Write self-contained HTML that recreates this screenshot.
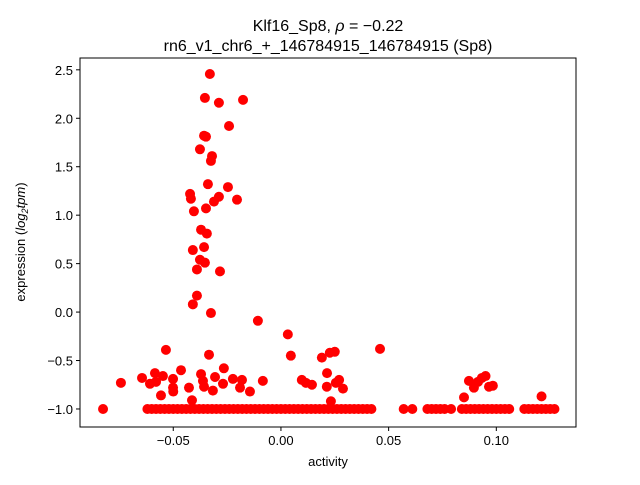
<!DOCTYPE html>
<html><head><meta charset="utf-8"><style>
body{margin:0;background:#fff;}
svg text{font-family:"Liberation Sans","DejaVu Sans",sans-serif;fill:#000;}
</style></head><body>
<svg id="chart" width="640" height="480" xmlns="http://www.w3.org/2000/svg">
<text x="328" y="31" font-size="16" text-anchor="middle">Klf16_Sp8, <tspan font-style="italic">ρ</tspan> = −0.22</text>
<text x="328" y="51" font-size="16" text-anchor="middle">rn6_v1_chr6_+_146784915_146784915 (Sp8)</text>
<g id="marks"></g>
<rect x="80" y="58" width="496" height="369" fill="none" stroke="#000" stroke-width="1"/>
<g id="axes"></g>
<text x="328" y="466" font-size="13" text-anchor="middle">activity</text>
<text transform="translate(25,242) rotate(-90)" font-size="13" text-anchor="middle">expression (<tspan font-style="italic">log</tspan><tspan font-size="9" dy="3" font-style="italic">2</tspan><tspan dy="-3" font-style="italic">tpm</tspan>)</text>
</svg>
<script>
const xTicks=[-0.05,0.00,0.05,0.10];
const xTickLabels=["−0.05","0.00","0.05","0.10"];
const yTicks=[-1.0,-0.5,0.0,0.5,1.0,1.5,2.0,2.5];
const yTickLabels=["−1.0","−0.5","0.0","0.5","1.0","1.5","2.0","2.5"];
const upperX=[-0.033,-0.0353,-0.0288,-0.0176,-0.0241,-0.0357,-0.0348,-0.0376,-0.032,-0.0325,-0.0339,-0.0246,-0.0422,-0.0418,-0.0288,-0.0311,-0.0204,-0.0404,-0.0348,-0.0371,-0.0344,-0.0409,-0.0357,-0.0376,-0.0353,-0.039,-0.0283,-0.039,-0.0409,-0.0325,-0.0107];
const upperY=[2.457,2.21,2.16,2.19,1.92,1.82,1.81,1.68,1.61,1.56,1.32,1.29,1.22,1.17,1.19,1.14,1.16,1.04,1.07,0.85,0.81,0.64,0.67,0.54,0.51,0.44,0.42,0.17,0.08,-0.01,-0.09];
const lowX=[-0.0743,-0.0534,-0.0645,-0.0608,-0.0585,-0.058,-0.0548,-0.0557,-0.0501,-0.0501,-0.05,-0.0464,-0.0427,-0.0413,-0.0371,-0.0362,-0.0357,-0.0334,-0.0316,-0.0306,-0.0265,-0.0269,-0.0223,-0.0181,-0.019,-0.0144,-0.0084,0.0032,0.0046,0.0097,0.0116,0.0144,0.019,0.0227,0.025,0.0214,0.0213,0.0255,0.027,0.0288,0.0232,0.046,0.085,0.0873,0.0896,0.0915,0.0933,0.095,0.0966,0.0984,0.121];
const lowY=[-0.73,-0.39,-0.68,-0.74,-0.63,-0.72,-0.66,-0.86,-0.69,-0.78,-0.82,-0.60,-0.78,-0.91,-0.64,-0.71,-0.77,-0.44,-0.81,-0.67,-0.58,-0.74,-0.69,-0.70,-0.78,-0.82,-0.71,-0.23,-0.45,-0.70,-0.73,-0.75,-0.47,-0.42,-0.41,-0.63,-0.77,-0.73,-0.70,-0.79,-0.92,-0.38,-0.88,-0.71,-0.78,-0.72,-0.68,-0.66,-0.77,-0.76,-0.87];
const baseX=[-0.0826,-0.062,-0.060,-0.058,-0.056,-0.054,-0.052,-0.050,-0.048,-0.046,-0.044,-0.042,-0.040,-0.038,-0.036,-0.034,-0.032,-0.030,-0.028,-0.026,-0.024,-0.022,-0.020,-0.018,-0.016,-0.014,-0.012,-0.010,-0.008,-0.006,-0.004,-0.002,0.000,0.002,0.004,0.006,0.008,0.010,0.012,0.014,0.016,0.018,0.020,0.022,0.024,0.026,0.028,0.030,0.032,0.034,0.036,0.038,0.040,0.042,0.057,0.061,0.068,0.070,0.072,0.074,0.076,0.079,0.084,0.086,0.088,0.090,0.092,0.094,0.096,0.098,0.100,0.102,0.104,0.106,0.113,0.115,0.117,0.119,0.121,0.123,0.125,0.127];
const baseY=-1.0;
const xMin=-0.0933,xMax=0.137,yMin=-1.186,yMax=2.622;
const L=80,R=576,T=58,B=427;
function sx(v){return L+(v-xMin)/(xMax-xMin)*(R-L);}
function sy(v){return B-(v-yMin)/(yMax-yMin)*(B-T);}
const NS="http://www.w3.org/2000/svg";
const marks=document.getElementById('marks');
function dot(x,y){const c=document.createElementNS(NS,'circle');


c.setAttribute('cx',sx(x));c.setAttribute('cy',sy(y));c.setAttribute('r',5);c.setAttribute('fill','#ff0000');marks.appendChild(c);}
baseX.forEach(x=>dot(x,baseY));
lowX.forEach((x,i)=>dot(x,lowY[i]));
upperX.forEach((x,i)=>dot(x,upperY[i]));
const axes=document.getElementById('axes');
xTicks.forEach((t,i)=>{const X=sx(t);
const l=document.createElementNS(NS,'line');


l.setAttribute('x1',X);l.setAttribute('x2',X);l.setAttribute('y1',B);l.setAttribute('y2',B+4);l.setAttribute('stroke','#000');axes.appendChild(l);
const tx=document.createElementNS(NS,'text');


tx.setAttribute('x',X);tx.setAttribute('y',B+18);tx.setAttribute('font-size','13');tx.setAttribute('text-anchor','middle');tx.textContent=xTickLabels[i];axes.appendChild(tx);});
yTicks.forEach((t,i)=>{const Y=sy(t);
const l=document.createElementNS(NS,'line');


l.setAttribute('x1',L-4);l.setAttribute('x2',L);l.setAttribute('y1',Y);l.setAttribute('y2',Y);l.setAttribute('stroke','#000');axes.appendChild(l);
const tx=document.createElementNS(NS,'text');


tx.setAttribute('x',L-7);tx.setAttribute('y',Y+5);tx.setAttribute('font-size','13');tx.setAttribute('text-anchor','end');tx.textContent=yTickLabels[i];axes.appendChild(tx);});
</script>
</body></html>
